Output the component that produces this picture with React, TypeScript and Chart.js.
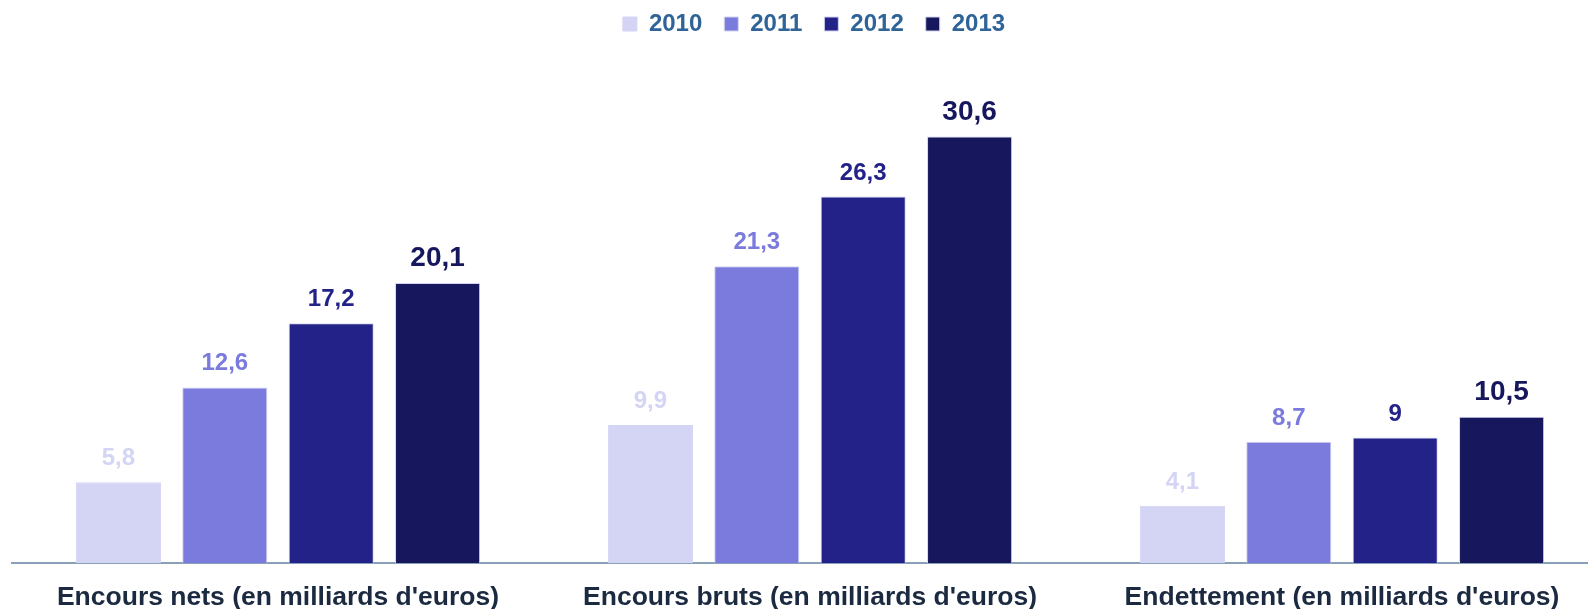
import React, { useEffect, useRef } from "react";
import { Chart, registerables } from "chart.js";

Chart.register(...registerables);

const categories = [
  "Encours nets (en milliards d'euros)",
  "Encours bruts (en milliards d'euros)",
  "Endettement (en milliards d'euros)",
];
const years = ["2010", "2011", "2012", "2013"];
const values2010 = [5.8, 9.9, 4.1];
const values2011 = [12.6, 21.3, 8.7];
const values2012 = [17.2, 26.3, 9];
const values2013 = [20.1, 30.6, 10.5];
const seriesValues = [values2010, values2011, values2012, values2013];
const colors = ["#d4d4f4", "#7b7bdd", "#222288", "#16175c"];
const labelSizes = [24, 24, 24, 28];

const FONT = "'Liberation Sans', Arial, Helvetica, sans-serif";

const fmt = (v: number) => String(v).replace(".", ",");

const valueLabels = {
  id: "valueLabels",
  afterDatasetsDraw(chart: any) {
    const ctx = chart.ctx;
    ctx.save();
    chart.data.datasets.forEach((ds: any, di: number) => {
      const meta = chart.getDatasetMeta(di);
      meta.data.forEach((el: any, i: number) => {
        const v = ds.data[i];
        ctx.font = `bold ${labelSizes[di]}px ${FONT}`;
        ctx.fillStyle = colors[di];
        ctx.textAlign = "center";
        ctx.textBaseline = "alphabetic";
        ctx.fillText(fmt(v), el.x, el.y - 17);
      });
    });
    ctx.restore();
  },
};

export default function App() {
  const ref = useRef<HTMLCanvasElement | null>(null);
  useEffect(() => {
    if (!ref.current) return;
    const chart = new Chart(ref.current, {
      type: "bar",
      data: {
        labels: categories,
        datasets: years.map((y, i) => ({
          label: y,
          data: seriesValues[i],
          backgroundColor: colors[i],
          borderColor: "#d4d4f4",
          borderWidth: 1,
          categoryPercentage: 0.8,
          barPercentage: 0.8,
        })),
      },
      options: {
        responsive: false,
        animation: false,
        layout: { padding: { left: 12, top: 0, right: 0, bottom: 0 } },
        plugins: {
          legend: {
            position: "top",
            labels: {
              boxWidth: 14,
              boxHeight: 14,
              padding: 22,
              color: "#2f6498",
              font: { family: FONT, size: 24, weight: "bold" },
            },
          },
          tooltip: { enabled: false },
        },
        scales: {
          x: {
            grid: { display: false, drawTicks: false },
            border: { display: true, color: "#8aa0b8", width: 2 },
            ticks: {
              padding: 19,
              color: "#1b2a41",
              font: { family: FONT, size: 26.5, weight: "bold" },
              maxRotation: 0,
              autoSkip: false,
            },
            afterFit: (axis: any) => {
              axis.height = 46;
            },
          },
          y: {
            position: "right",
            min: 0,
            max: 37.1,
            grid: { display: false, drawTicks: false },
            border: { display: false },
            ticks: { display: false },
            afterFit: (axis: any) => {
              axis.width = 8;
            },
          },
        },
      },
      plugins: [valueLabels],
    });
    return () => chart.destroy();
  }, []);
  return (
    <div
      style={{
        position: "fixed",
        left: 0,
        top: 0,
        width: 1588,
        height: 609,
        overflow: "hidden",
        background: "#ffffff",
      }}
    >
      <div style={{ position: "absolute", left: 0, top: -10, width: 1616, height: 619 }}>
        <canvas ref={ref} width={1616} height={619} style={{ display: "block" }} />
      </div>
    </div>
  );
}
